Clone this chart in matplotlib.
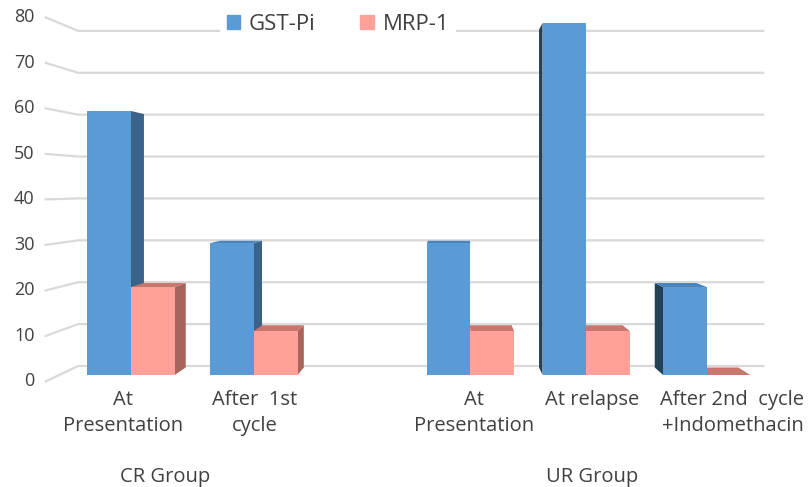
import matplotlib.pyplot as plt
from matplotlib.patches import Polygon, Patch

plt.rcParams['font.family'] = ['Open Sans', 'DejaVu Sans']

# chart data
stages = ["At\nPresentation", "After  1st\ncycle", "At\nPresentation",
          "At relapse", "After 2nd  cycle\n+Indomethacin"]
groups = ["CR Group", "UR Group"]
gst_pi = [60, 30, 30, 80, 20]
mrp_1 = [20, 10, 10, 10, 0]
y_ticks = [0, 10, 20, 30, 40, 50, 60, 70, 80]

# layout (fake 3d like the excel chart)
pos = [0, 1, 2.76, 3.7, 4.68]          # blue/pink boundary of each stage
label_x = [-0.065, 1.008, 2.79, 3.75, 4.89]
group_x = [0.276, 3.75]
bar_w = 0.354
vp = (2.63, 42.7)                      # vanishing point
s_bar, s_wall, s_side = 0.96, 0.952, 1.034
wall_left, wall_right = -0.584, 5.14
txt = '#404040'

blue = ('#5B9BD5', '#3B6389', '#24415A', '#4A86BE')   # front, right side, left side, top
pink = ('#FFA199', '#A8645C', '#A8645C', '#C9766C')


def persp(x, y, s):
    return vp[0] + s * (x - vp[0]), vp[1] + s * (y - vp[1])


fig = plt.figure(figsize=(8.09, 4.87), dpi=100)
ax = fig.add_axes([0, 0, 1, 1])
ax.set_xlim(-131 / 123, 678 / 123)
ax.set_ylim(-112 / 4.4, 375 / 4.4)
ax.axis('off')

# gridlines on side wall + back wall
for v in y_ticks:
    x0, y0 = persp(wall_left, v, s_side)
    x1, y1 = persp(wall_left, v, s_wall)
    ax.plot([x0, x1, wall_right], [y0, y1, y1], color='#D9D9D9', lw=1.6, zorder=1)
    ax.text(x0 - 0.09, y0, str(v), ha='right', va='center', fontsize=13, color=txt)


def draw_bar(x0, h, cols, z):
    x1 = x0 + bar_w
    ax.bar(x0, h, width=bar_w, align='edge', color=cols[0], zorder=z + 0.5)
    if x1 < vp[0]:
        xs, sc = x1, cols[1]
    elif x0 > vp[0]:
        xs, sc = x0, cols[2]
    else:
        xs = None
    if xs is not None:
        pts = [(xs, 0), (xs, h), persp(xs, h, s_bar), persp(xs, 0, s_bar)]
        ax.add_patch(Polygon(pts, closed=True, color=sc, lw=0, zorder=z))
    if h < vp[1]:
        pts = [(x0, h), (x1, h), persp(x1, h, s_bar), persp(x0, h, s_bar)]
        ax.add_patch(Polygon(pts, closed=True, color=cols[3], lw=0, zorder=z))


z = 2
for p, g, m in zip(pos, gst_pi, mrp_1):
    pair = [(p - bar_w, g, blue), (p, m, pink)]
    if p > vp[0]:
        pair = pair[::-1]
    for x0, h, cols in pair:
        draw_bar(x0, h, cols, z)
        z += 1

for lx, s in zip(label_x, stages):
    ax.text(lx, -3.3, s, ha='center', va='top', fontsize=14.5, color=txt, linespacing=1.4)
for gx, g in zip(group_x, groups):
    ax.text(gx, -23.2, g, ha='center', va='center', fontsize=14.5, color=txt)

handles = [Patch(color=blue[0], label='GST-Pi'), Patch(color=pink[0], label='MRP-1')]
leg = ax.legend(handles=handles, ncol=2, loc='center',
                bbox_to_anchor=(338 / 809, (487 - 24) / 487), bbox_transform=fig.transFigure,
                frameon=True, fancybox=False, edgecolor='none', framealpha=1,
                fontsize=16, handlelength=0.6, handleheight=0.6,
                handletextpad=0.4, columnspacing=2.0, borderpad=0.3)
for t in leg.get_texts():
    t.set_color(txt)
leg.set_zorder(20)

fig.savefig('out.png', dpi=100)
